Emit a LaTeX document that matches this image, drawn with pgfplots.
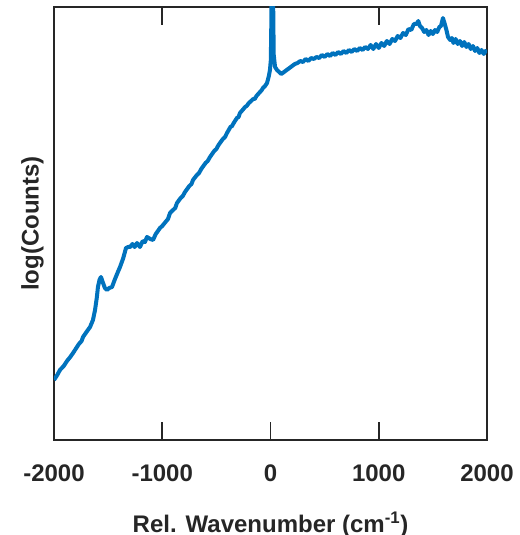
\documentclass[border=0pt]{standalone}
\usepackage{pgfplots}
\pgfplotsset{compat=1.18}
\usepackage{fontspec}
\setmainfont{Liberation Sans}
\definecolor{axgray}{HTML}{262626}
\definecolor{mblue}{HTML}{0072BD}
\pgfplotstableread{
x y
-2000 60
-1970 65
-1945 70
-1910 74
-1880 79
-1850 83
-1824 87
-1800 91
-1770 96
-1745 99
-1732 103
-1700 108
-1667 113
-1640 120
-1621 130
-1605 142
-1594 153
-1580 160
-1566 163
-1550 158
-1530 152
-1510 150
-1490 152
-1464 153
-1440 160
-1410 168
-1390 173
-1360 182
-1335 192
-1315 193
-1298 193
-1275 196
-1255 193
-1233 197
-1220 195
-1206 193
-1180 199
-1160 198
-1141 203
-1110 201
-1085 200
-1060 206
-1040 209
-1021 212
-1000 214
-970 218
-947 221
-928 227
-900 230
-880 232
-864 237
-830 242
-810 244
-790 248
-750 254
-730 256
-716 260
-680 265
-660 267
-640 271
-600 277
-580 279
-559 283
-520 289
-500 291
-480 295
-440 301
-420 303
-402 307
-370 313
-355 314
-340 317
-310 322
-295 323
-282 327
-250 331
-235 333
-220 334
-200 337
-189 338
-160 341
-145 341
-130 344
-97 348
-80 350
-70 352
-50 354
-32 357
-15 364
-5 370
3 380
8 420
10 480
22 480
26 420
30 385
42 373
60 370
80 368
100 366
125 368
150 370
175 372
200 374
225 376
250 377
275 379
300 378
325 381
350 379
375 382
400 381
425 383
450 382
475 385
500 383
525 386
550 384
575 387
600 385
625 388
650 386
675 389
700 387
725 390
750 388
775 391
800 389
825 392
850 390
875 393
900 391
925 395
950 391
975 396
1000 392
1025 397
1050 394
1075 399
1100 396
1125 401
1150 399
1175 404
1200 402
1225 407
1250 405
1275 411
1300 410
1325 416
1350 416
1365 419
1380 414
1400 412
1420 408
1440 410
1460 405
1480 409
1500 406
1520 410
1540 408
1560 413
1575 414
1593 422
1610 416
1625 410
1640 403
1660 400
1675 402
1690 397
1710 401
1730 396
1750 399
1770 394
1790 398
1810 393
1830 396
1850 391
1870 394
1890 389
1910 392
1930 387
1950 390
1970 386
1985 389
2000 387
}\spectrum
\begin{document}
\begin{tikzpicture}
\begin{axis}[
  scale only axis, width=433pt, height=433pt,
  xmin=-2000, xmax=2000, ymin=0, ymax=433,
  xtick={-2000,-1000,0,1000,2000},
  xticklabels={-2000,-1000,0,1000,2000},
  ytick=\empty,
  tick align=inside,
  major tick length=18pt,
  axis line style={line width=1.6pt, color=axgray},
  every tick/.style={line width=1.6pt, color=axgray},
  tick label style={font=\bfseries\fontsize{24}{28}\selectfont, text=axgray},
  xticklabel style={inner ysep=25pt},
  xlabel={Rel. Wavenumber (cm\textsuperscript{-1})},
  ylabel={log(Counts)},
  label style={font=\bfseries\fontsize{24}{28}\selectfont, text=axgray},
  xlabel style={inner ysep=5pt},
  ylabel style={inner ysep=10pt},
]
\addplot[mblue, line width=4pt, line join=round] table[x=x,y=y]{\spectrum};
\end{axis}
\pgfresetboundingbox
\path (current axis.south west) ++(-54pt,-95pt) rectangle ([xshift=32pt,yshift=7pt]current axis.north east);
\end{tikzpicture}
\end{document}
